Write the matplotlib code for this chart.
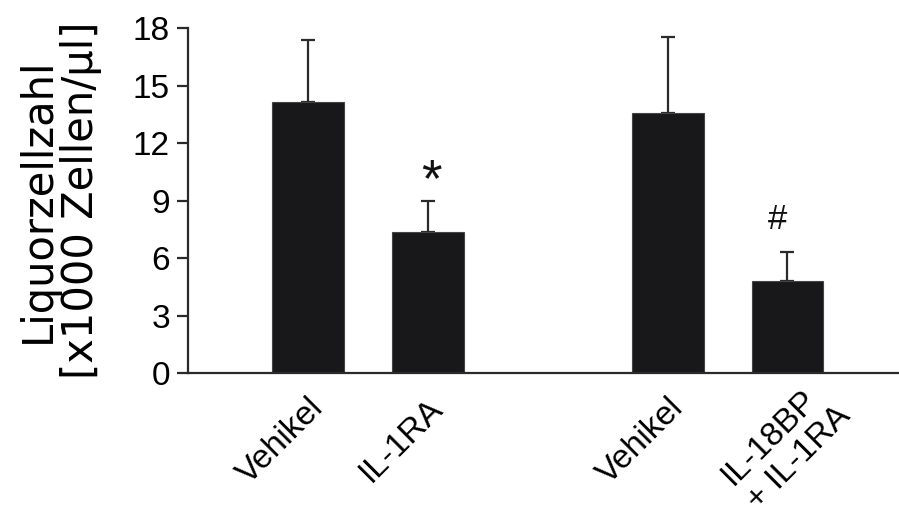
import numpy as np
import matplotlib.pyplot as plt
import matplotlib.transforms as mtransforms

plt.rcParams['font.family'] = ['Liberation Sans', 'DejaVu Sans']

# Liquorzellzahl je Gruppe (Mittelwert + Fehler nach oben)
gruppen = ["Vehikel", "IL-1RA", "Vehikel", "IL-18BP\n+ IL-1RA"]
positionen = [0, 1, 3, 4]
mittelwerte = [14.15, 7.35, 13.55, 4.8]
fehler = [3.2, 1.6, 4.0, 1.5]
signifikanz = ["", "*", "", "#"]

fig = plt.figure(figsize=(8.99, 5.17), dpi=100)
ax = fig.add_axes([0.209, 0.2785, 0.791, 0.6673])

farbe = "#18181a"
linie = "#2a2a2a"
ax.bar(positionen, mittelwerte, width=0.6, color=farbe, edgecolor="#444444",
       linewidth=0.8, zorder=2)
ax.errorbar(positionen, mittelwerte, yerr=[np.zeros(len(fehler)), fehler],
            fmt="none", ecolor=linie, elinewidth=1.6, capsize=5,
            capthick=1.6, zorder=1)

# Sternchen / Raute über den Fehlerbalken
for x, m, f, s in zip(positionen, mittelwerte, fehler, signifikanz):
    if s == "*":
        ax.text(x + 0.03, m + f - 0.3, s, ha="center", va="bottom",
                fontsize=38, color="#111111")
    elif s == "#":
        ax.text(x - 0.08, m + f + 0.85, s, ha="center", va="bottom",
                fontsize=25, color="#111111")

ax.set_xlim(-1.0, 4.93)
ax.set_ylim(0, 18)
ax.set_yticks(np.arange(0, 19, 3))
ax.set_xticks(positionen)
ax.set_xticklabels(gruppen, rotation=45, ha="right", rotation_mode="anchor",
                   fontsize=24, multialignment="left")
ax.tick_params(axis="x", length=0, pad=14)
ax.tick_params(axis="y", length=8, width=1.6, color=linie, labelsize=24,
               pad=5)

# zweizeiliges Label etwas nach rechts oben schieben
verschiebung = mtransforms.ScaledTranslation(0.22, 0.17, fig.dpi_scale_trans)
letztes = ax.get_xticklabels()[-1]
letztes.set_transform(letztes.get_transform() + verschiebung)

for s in ["top", "right"]:
    ax.spines[s].set_visible(False)
ax.spines["left"].set_linewidth(1.6)
ax.spines["bottom"].set_linewidth(1.6)
ax.spines["left"].set_color(linie)
ax.spines["bottom"].set_color(linie)

ax.set_ylabel("Liquorzellzahl\n[x1000 Zellen/µl]", fontsize=30,
              family="DejaVu Sans", linespacing=1.05, labelpad=22)

fig.savefig("out.png", dpi=100)
